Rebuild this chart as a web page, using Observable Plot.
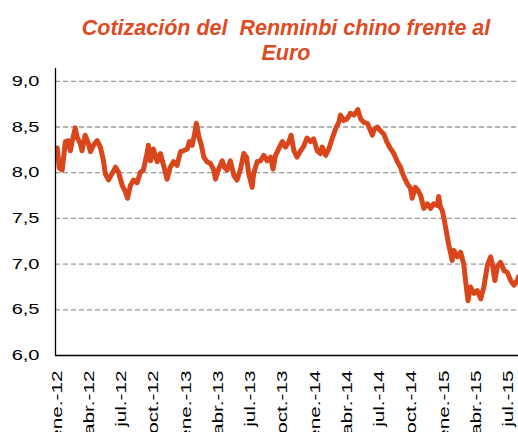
<!DOCTYPE html>
<html><head><meta charset="utf-8">
<script src="https://cdn.jsdelivr.net/npm/d3@7"></script>
<script src="https://cdn.jsdelivr.net/npm/@observablehq/plot@0.6"></script>
<style>
body{margin:0;background:#fff;width:518px;height:432px;overflow:hidden;font-family:"Liberation Sans",Arial,sans-serif}
#title{box-sizing:border-box;width:518px;height:66px;padding:16px 0 0 54px;text-align:center;font:italic bold 21.5px/25px "Liberation Sans",Arial,sans-serif;color:#DF4A1F;white-space:pre}
</style></head><body>
<div id="title">Cotización del  Renminbi chino frente al
Euro</div>
<div id="chart"></div>
<script>
const dates = ["2012-01-02","2012-01-08","2012-01-16","2012-01-25","2012-02-02","2012-02-08","2012-02-13","2012-02-22","2012-02-27","2012-03-07","2012-03-12","2012-03-21","2012-03-30","2012-04-05","2012-04-13","2012-04-24","2012-05-03","2012-05-11","2012-05-17","2012-05-26","2012-06-05","2012-06-15","2012-06-23","2012-07-04","2012-07-13","2012-07-19","2012-07-27","2012-08-05","2012-08-15","2012-08-24","2012-09-02","2012-09-12","2012-09-16","2012-09-22","2012-09-30","2012-10-11","2012-10-20","2012-10-29","2012-11-08","2012-11-17","2012-11-26","2012-12-06","2012-12-16","2012-12-24","2013-01-04","2013-01-10","2013-01-18","2013-01-25","2013-01-30","2013-02-06","2013-02-13","2013-02-20","2013-03-01","2013-03-11","2013-03-20","2013-03-25","2013-04-03","2013-04-13","2013-04-19","2013-04-27","2013-05-06","2013-05-16","2013-05-25","2013-06-04","2013-06-13","2013-06-21","2013-06-27","2013-07-07","2013-07-11","2013-07-21","2013-07-30","2013-08-09","2013-08-18","2013-08-28","2013-09-04","2013-09-11","2013-09-20","2013-09-30","2013-10-09","2013-10-19","2013-10-25","2013-11-02","2013-11-11","2013-11-21","2013-11-30","2013-12-09","2013-12-19","2013-12-28","2014-01-07","2014-01-16","2014-01-21","2014-01-31","2014-02-09","2014-02-18","2014-02-28","2014-03-09","2014-03-14","2014-03-23","2014-04-02","2014-04-11","2014-04-21","2014-05-02","2014-05-10","2014-05-19","2014-05-29","2014-06-07","2014-06-12","2014-06-18","2014-06-26","2014-07-05","2014-07-15","2014-07-24","2014-08-03","2014-08-12","2014-08-22","2014-08-31","2014-09-08","2014-09-14","2014-09-19","2014-09-28","2014-10-03","2014-10-12","2014-10-19","2014-10-27","2014-11-05","2014-11-15","2014-11-24","2014-12-03","2014-12-13","2014-12-17","2014-12-22","2014-12-27","2015-01-01","2015-01-08","2015-01-15","2015-01-20","2015-01-24","2015-01-29","2015-02-08","2015-02-17","2015-02-26","2015-03-03","2015-03-10","2015-03-17","2015-03-27","2015-04-05","2015-04-15","2015-04-24","2015-05-04","2015-05-13","2015-05-18","2015-05-25","2015-06-01","2015-06-10","2015-06-20","2015-06-29","2015-07-09","2015-07-18","2015-07-28","2015-07-31"];
const values = [8.27,8.05,8.03,8.34,8.35,8.24,8.34,8.49,8.39,8.32,8.24,8.41,8.32,8.23,8.30,8.35,8.28,8.15,7.99,7.92,7.99,8.06,8.01,7.86,7.79,7.72,7.86,7.92,7.89,8.00,8.03,8.21,8.30,8.13,8.26,8.12,8.21,8.08,7.93,8.06,8.12,8.08,8.23,8.24,8.26,8.34,8.30,8.43,8.54,8.39,8.30,8.17,8.12,8.10,8.03,7.93,8.04,8.13,8.06,8.03,8.13,7.97,7.92,8.04,8.21,8.17,7.99,7.84,7.99,8.12,8.13,8.19,8.13,8.17,8.04,8.19,8.26,8.34,8.28,8.34,8.41,8.24,8.17,8.24,8.29,8.38,8.34,8.37,8.24,8.21,8.28,8.19,8.26,8.37,8.48,8.55,8.63,8.57,8.59,8.65,8.63,8.69,8.59,8.55,8.54,8.46,8.41,8.48,8.50,8.46,8.42,8.33,8.26,8.21,8.12,8.06,7.97,7.92,7.88,7.83,7.72,7.84,7.81,7.75,7.61,7.66,7.61,7.66,7.64,7.74,7.62,7.59,7.50,7.35,7.20,7.12,7.04,7.15,7.08,7.13,7.00,6.82,6.60,6.75,6.68,6.71,6.62,6.75,6.99,7.08,7.00,6.82,6.97,7.02,6.93,6.91,6.82,6.77,6.82,6.86];
const xTickDates = ["2012-01-01","2012-04-01","2012-07-01","2012-10-01","2013-01-01","2013-04-01","2013-07-01","2013-10-01","2014-01-01","2014-04-01","2014-07-01","2014-10-01","2015-01-01","2015-04-01","2015-07-01"];
const xTickLabels = ["ene.-12","abr.-12","jul.-12","oct.-12","ene.-13","abr.-13","jul.-13","oct.-13","ene.-14","abr.-14","jul.-14","oct.-14","ene.-15","abr.-15","jul.-15"];
const yTicks = [6.0,6.5,7.0,7.5,8.0,8.5,9.0];
const yTickLabels = ["6,0","6,5","7,0","7,5","8,0","8,5","9,0"];
const xDomain = ["2011-12-28","2015-07-31"];

const data = dates.map((d, i) => ({date: new Date(d), value: values[i]}));
const xTicks = xTickDates.map(d => new Date(d));
const xDom = xDomain.map(d => new Date(d));

const svg = Plot.plot({
  width: 518, height: 366,
  marginLeft: 55, marginRight: 0, marginTop: 2, marginBottom: 77,
  x: {type: "utc", domain: xDom, label: null},
  y: {domain: [6, 9.14], label: null},
  style: {fontFamily: "'Liberation Sans', Arial, sans-serif", color: "#000", background: "#fff", overflow: "visible"},
  marks: [
    Plot.gridY(yTicks.filter(d => d > 6), {stroke: "#9a9a9a", strokeOpacity: 1, strokeDasharray: "5,3", strokeWidth: 1.3}),
    Plot.line(data, {x: "date", y: "value", stroke: "#DA461B", strokeWidth: 5, strokeLinejoin: "round", strokeLinecap: "round"}),
    Plot.ruleY([6], {stroke: "#000", strokeWidth: 1.3}),
    Plot.ruleX([xDom[0]], {stroke: "#000", strokeWidth: 1.3}),
    Plot.axisY(yTicks, {label: null, tickSize: 0, tickPadding: 16, fontSize: 14.5, tickFormat: d => yTickLabels[yTicks.indexOf(d)]}),
    Plot.axisX(xTicks, {label: null, tickSize: 0, tickPadding: 15, tickRotate: -90, fontSize: 15, tickFormat: d => xTickLabels[xTicks.findIndex(t => +t === +d)]})
  ]
});
document.getElementById("chart").append(svg);
d3.select(svg).selectAll("text").each(function() {
  const L = this.getComputedTextLength();
  this.setAttribute("textLength", (L * 1.38).toFixed(2));
  this.setAttribute("lengthAdjust", "spacingAndGlyphs");
});
</script>
</body></html>
